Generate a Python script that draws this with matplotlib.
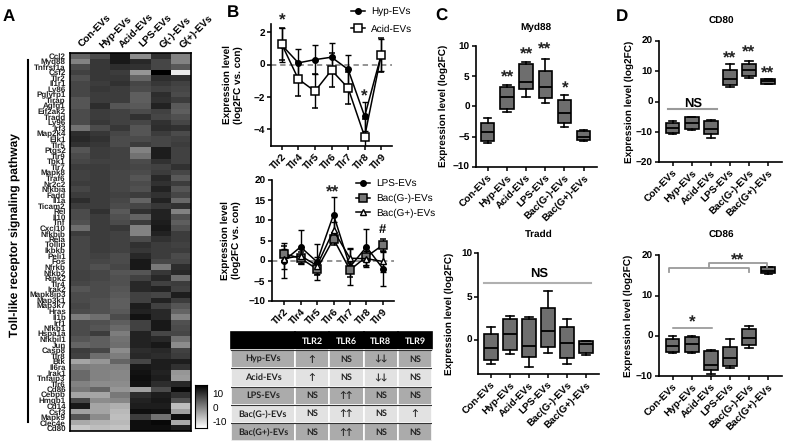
import matplotlib
matplotlib.use('Agg')
import matplotlib.pyplot as plt
from matplotlib.transforms import ScaledTranslation

plt.rcParams['font.family'] = ['Liberation Sans', 'DejaVu Sans']
plt.rcParams['text.hinting'] = 'no_hinting'
plt.rcParams['text.hinting_factor'] = 1
W, H = 800, 441

genes = ['Ccl2', 'Myd88', 'Tnfrsf1a', 'Csf2', 'Tlr2', 'Il1r1', 'Ly86', 'Pglyrp1', 'Tirap', 'Agfg1',
         'Eif2ak2', 'Tradd', 'Ly96', 'Irf3', 'Map2k4', 'Elk1', 'Tlr5', 'Ptgs2', 'Tlr9', 'Tbk1',
         'Tlr7', 'Mapk8', 'Traf6', 'Nr2c2', 'Nfkbia', 'Fadd', 'Il1a', 'Ticam2', 'Rel', 'Il10',
         'Tnf', 'Cxcl10', 'Nfkbib', 'Rela', 'Tollip', 'Ikbkb', 'Peli1', 'Fos', 'Nfrkb', 'Nfkb2',
         'Ripk2', 'Tlr4', 'Irak2', 'Mapk8ip3', 'Map3k1', 'Map3k7', 'Hras', 'Il1b', 'Irf1', 'Nfkb1',
         'Hspa1a', 'Nfkbil1', 'Jun', 'Casp8', 'Tlr8', 'Btk', 'Il6ra', 'Irak1', 'Tnfaip3', 'Tlr6',
         'Cd86', 'Cebpb', 'Hmgb1', 'Cd14', 'Csf3', 'Mapk9', 'Clec4e', 'Cd80']
heat_cols = ['Con-EVs', 'Hyp-EVs', 'Acid-EVs', 'LPS-EVs', 'G(-)-EVs', 'G(+)-EVs']
heat = [
    [4.8, 7.9, 14.0, 0.0, 10.9, 1.2],
    [1.2, 10.3, 14.0, 12.1, 8.5, 1.2],
    [7.9, 10.3, 11.5, 10.9, 8.5, 6.1],
    [9.1, 10.3, 9.7, -1.2, 17.0, -11.6],
    [7.3, 10.3, 10.3, 4.8, 11.5, 10.9],
    [8.5, 9.7, 10.9, 8.5, 10.3, 9.1],
    [8.5, 10.3, 9.7, 7.9, 9.1, 8.5],
    [8.5, 9.7, 9.7, 5.5, 11.5, 7.9],
    [6.7, 9.7, 9.7, 5.5, 10.9, 9.7],
    [6.7, 11.5, 6.7, 6.1, 12.7, 6.1],
    [7.9, 9.7, 9.1, 7.9, 9.1, 5.5],
    [7.9, 9.7, 9.1, 10.9, 8.5, 7.3],
    [7.9, 10.3, 9.1, 8.5, 10.9, 8.5],
    [3.0, 7.9, 10.3, 6.7, 11.5, 10.9],
    [11.5, 10.3, 8.5, 6.7, 9.7, 7.9],
    [12.1, 10.9, 7.9, 7.9, 8.5, 9.1],
    [10.9, 10.3, 7.9, 9.7, 8.5, 9.7],
    [6.7, 9.7, 9.1, 1.2, 13.4, 9.1],
    [7.9, 9.7, 9.1, 3.0, 13.4, 9.1],
    [8.5, 9.1, 9.1, 7.9, 10.9, 9.1],
    [9.7, 9.7, 9.1, 8.5, 9.1, 10.9],
    [9.1, 9.7, 8.5, 7.9, 9.7, 8.5],
    [9.1, 9.7, 8.5, 6.7, 12.1, 6.1],
    [9.7, 9.7, 8.5, 7.9, 10.9, 9.7],
    [8.5, 9.7, 8.5, 7.3, 12.7, 6.7],
    [9.7, 9.7, 9.1, 9.7, 10.9, 8.5],
    [11.5, 9.7, 8.5, 4.8, 12.7, 4.2],
    [9.7, 9.7, 7.9, 8.5, 10.3, 10.9],
    [7.9, 10.9, 6.1, 10.9, 12.7, 1.2],
    [7.9, 9.7, 7.3, 4.8, 12.7, 7.3],
    [7.3, 9.7, 7.9, 9.7, 13.4, 5.5],
    [3.6, 9.7, 10.3, 1.2, 14.0, 7.3],
    [9.7, 9.7, 9.1, 1.2, 12.7, 9.7],
    [8.5, 9.7, 9.1, 7.9, 10.9, 9.7],
    [8.5, 9.7, 9.1, 10.9, 9.7, 9.1],
    [8.5, 9.7, 9.1, 10.3, 9.7, 9.7],
    [8.5, 9.1, 7.9, 12.1, 9.7, 7.9],
    [8.5, 8.5, 7.9, 14.0, 8.5, 8.5],
    [8.5, 7.3, 8.5, 14.0, 2.4, 11.5],
    [9.1, 8.5, 6.7, 6.7, 10.3, 12.1],
    [9.1, 8.5, 7.3, 9.1, 12.1, 3.6],
    [8.5, 7.9, 7.3, 12.1, 9.1, 9.7],
    [6.7, 7.9, 6.7, 12.1, 12.7, 9.1],
    [7.9, 7.9, 6.1, 9.1, 8.5, 13.4],
    [7.9, 7.3, 5.5, 9.1, 12.7, 9.7],
    [8.5, 7.3, 5.5, 13.4, 9.1, 6.7],
    [7.9, 7.3, 6.1, 12.7, 12.1, 4.8],
    [1.8, 3.6, 7.9, 14.6, 12.1, 1.2],
    [7.9, 7.3, 5.5, 9.1, 14.0, 7.3],
    [7.9, 6.7, 4.2, 9.1, 14.0, 7.9],
    [7.9, 9.7, 1.8, 12.7, 8.5, 8.5],
    [6.7, 5.5, 3.0, 12.7, 12.1, 3.0],
    [4.8, 5.5, 3.6, 12.7, 14.0, 0.0],
    [9.7, 8.5, 0.0, 11.5, 12.1, 9.1],
    [9.1, 3.6, 1.8, 12.1, 11.5, 9.7],
    [-3.1, -1.2, 4.8, 8.5, 13.4, 13.4],
    [1.8, 1.2, 1.2, 14.0, 13.4, 10.9],
    [4.2, 1.2, 0.6, 14.6, 12.7, -1.2],
    [4.2, 1.2, 0.6, 15.2, 13.4, -1.8],
    [1.2, 0.0, 0.0, 14.6, 11.5, 12.1],
    [2.4, 4.8, -1.2, -2.5, 7.9, 15.8],
    [-3.1, -3.1, 2.4, 11.5, 13.4, 10.9],
    [8.5, 0.0, 0.6, 12.7, 14.0, 7.3],
    [14.0, -3.1, -4.3, 13.4, 13.4, -6.1],
    [-2.5, -3.1, -5.5, 15.2, 14.6, -2.5],
    [6.7, 0.0, -6.1, 9.7, 3.0, 15.2],
    [-3.7, -4.9, -5.5, 15.2, 15.8, -3.7],
    [-7.3, -6.1, -6.7, 15.2, 15.2, 13.4],
]
cbar_levels = [-14 + i * 0.25 for i in range(125)]

tlr = ['Tlr2', 'Tlr4', 'Tlr5', 'Tlr6', 'Tlr7', 'Tlr8', 'Tlr9']
hyp = [1.2, 0.1, 0.3, 0.45, -0.3, -3.2, 0.6]
hyp_err = [1.05, 0.85, 0.9, 0.9, 0.9, 0.9, 1.0]
acid = [1.25, -0.9, -1.65, -0.35, -1.45, -4.45, 0.6]
acid_err = [1.0, 1.05, 1.05, 1.05, 1.0, 1.1, 1.05]
lps = [0.0, 3.4, -0.3, 11.4, -1.5, 3.4, -2.0]
lps_err = [4.4, 4.2, 4.5, 4.3, 4.5, 4.5, 4.2]
bac_neg = [1.7, 0.6, -2.1, 5.4, -2.3, 1.0, 3.9]
bac_neg_err = [2.0, 1.5, 1.5, 1.5, 1.7, 2.2, 1.5]
bac_pos = [0.5, 1.2, -1.2, 7.5, 0.6, 0.5, -0.2]
bac_pos_err = [2.5, 1.8, 2.0, 2.0, 2.5, 2.0, 2.5]

groups = ['Con-EVs', 'Hyp-EVs', 'Acid-EVs', 'LPS-EVs', 'Bac(G-)-EVs', 'Bac(G+)-EVs']
# low whisker, q1, median, q3, high whisker
myd88 = [[-6.1, -5.8, -4.3, -2.8, -1.9], [-0.9, -0.5, 1.5, 3.2, 3.5], [1.6, 2.8, 4.1, 7.1, 7.4],
         [0.6, 1.4, 3.2, 5.9, 7.9], [-3.5, -2.8, -1.1, 1.0, 1.8], [-5.8, -5.5, -5.0, -4.1, -4.0]]
tradd = [[-2.8, -2.4, -0.9, 0.7, 1.5], [-1.7, -1.2, 0.7, 2.4, 2.7], [-3.1, -2.0, -0.7, 2.4, 2.6],
         [-1.5, -0.8, 1.0, 3.7, 5.6], [-2.8, -2.1, -0.4, 1.5, 2.4], [-1.8, -1.5, -0.5, -0.2, -0.2]]
cd80 = [[-10.8, -10.4, -8.8, -7.2, -6.3], [-9.5, -9.0, -7.0, -5.2, -5.0], [-12.0, -10.8, -9.0, -6.3, -6.0],
        [4.8, 5.5, 7.5, 10.3, 12.2], [7.8, 8.5, 10.3, 12.3, 13.2], [5.6, 5.8, 6.8, 7.4, 7.5]]
cd86 = [[-4.3, -4.0, -2.5, -0.8, 0.0], [-4.4, -4.1, -2.0, -0.3, -0.1], [-9.6, -8.4, -7.2, -3.9, -3.5],
        [-8.1, -7.5, -5.5, -2.7, -0.8], [-3.0, -2.3, -0.6, 1.6, 2.4], [15.4, 15.5, 16.0, 17.0, 17.1]]

table_cols = ['', 'TLR2', 'TLR6', 'TLR8', 'TLR9']
table_rows = [['Hyp-EVs', '↑', 'NS', '↓↓', 'NS'],
              ['Acid-EVs', '↑', 'NS', '↓↓', 'NS'],
              ['LPS-EVs', 'NS', '↑↑', 'NS', 'NS'],
              ['Bac(G-)-EVs', 'NS', '↑↑', 'NS', '↑'],
              ['Bac(G+)-EVs', 'NS', '↑↑', 'NS', 'NS']]

fig = plt.figure(figsize=(W / 100, H / 100), dpi=100)


def make_ax(left, top, right, bottom):
    return fig.add_axes([left / W, 1 - bottom / H, (right - left) / W, (bottom - top) / H])


def px_text(x, y, s, **kw):
    kw.setdefault('ha', 'center')
    kw.setdefault('va', 'center')
    fig.text(x / W, 1 - y / H, s, **kw)


def px_line(xs, ys, color='#9a9a9a', lw=1.3):
    fig.add_artist(plt.Line2D([x / W for x in xs], [1 - y / H for y in ys], color=color, lw=lw))


def ylabel_at(ax, x, text, size=7.4):
    # label centre given as a pixel column
    pos = ax.get_position()
    ax.set_ylabel(text, fontsize=size, fontweight='bold', linespacing=1.2)
    ax.yaxis.set_label_coords((x / W - pos.x0) / pos.width, 0.5)


def style_ax(ax, ticks, labels):
    ax.spines['top'].set_visible(False)
    ax.spines['right'].set_visible(False)
    ax.spines['left'].set_linewidth(1.2)
    ax.spines['bottom'].set_linewidth(1.2)
    ax.set_yticks(ticks)
    ax.set_xticks(range(len(labels)))
    ax.set_xticklabels(labels, rotation=45, ha='right', rotation_mode='anchor', fontsize=6.9, fontweight='bold')
    ax.tick_params(axis='both', length=3, width=1.1, pad=1.5)
    ax.tick_params(axis='y', labelsize=7.5)
    for lab in ax.get_yticklabels():
        lab.set_fontweight('bold')


def box_panel(ax, rows, ticks):
    stats = [dict(whislo=r[0], q1=r[1], med=r[2], q3=r[3], whishi=r[4], fliers=[]) for r in rows]
    ax.bxp(stats, positions=range(len(rows)), widths=0.7, patch_artist=True, showfliers=False,
           boxprops=dict(facecolor='#6e6e6e', edgecolor='black', linewidth=1.2),
           medianprops=dict(color='black', linewidth=1.3),
           whiskerprops=dict(color='black', linewidth=1.2),
           capprops=dict(color='black', linewidth=1.2), capwidths=0.38)
    style_ax(ax, ticks, groups)


def err_line(ax, vals, errs, **kw):
    cont = ax.errorbar(range(len(vals)), vals, yerr=errs, color='black', lw=1.1, capsize=2.5,
                       capthick=1, elinewidth=1, **kw)
    return cont.lines[0]


# A: heat map
ax_a = make_ax(70, 53, 190.5, 431)
ax_a.imshow(heat, cmap='gray_r', vmin=-14, vmax=17, aspect='auto')
ax_a.set_yticks(range(len(genes)))
ax_a.set_yticklabels(genes, fontsize=5.7, fontweight='bold', color='#222222')
ax_a.set_xticks(range(len(heat_cols)))
ax_a.set_xticklabels(heat_cols, rotation=45, ha='left', rotation_mode='anchor', fontsize=7.1, fontweight='bold')
ax_a.tick_params(axis='y', length=0, pad=3)
ax_a.tick_params(axis='x', length=0, pad=3, top=True, labeltop=True, bottom=False, labelbottom=False)
shift = ScaledTranslation(4 / 100, -1 / 100, fig.dpi_scale_trans)
for lab in ax_a.get_xticklabels():
    lab.set_transform(lab.get_transform() + shift)
for sp in ax_a.spines.values():
    sp.set_linewidth(1.2)

ax_cb = make_ax(195, 385, 207, 428)
ax_cb.imshow([[v] for v in reversed(cbar_levels)], cmap='gray_r', vmin=-14, vmax=17, aspect='auto',
             extent=[0, 1, -14, 17])
ax_cb.set_xticks([])
ax_cb.yaxis.tick_right()
ax_cb.set_yticks([10, 0, -10])
ax_cb.set_yticklabels(['10', '0', '-10'], fontsize=7.5)
ax_cb.tick_params(axis='y', length=0, pad=4)

px_line([28, 28], [60, 422], color='black', lw=1.5)
px_text(15, 235, 'Toll-like receptor signaling pathway', rotation=90, fontsize=8.4, fontweight='bold')

# B top
ax_b1 = make_ax(271, 24, 392, 145.5)
ax_b1.axhline(0, color='#777777', lw=1.1, ls=(0, (3.5, 2.5)), zorder=0)
l1 = err_line(ax_b1, hyp, hyp_err, marker='o', ms=4)
l2 = err_line(ax_b1, acid, acid_err, marker='s', ms=5.5, mfc='white', mew=1.1)
ax_b1.set_xlim(-0.65, 6.65)
ax_b1.set_ylim(-5, 2.5)
style_ax(ax_b1, [2, 0, -2, -4], tlr)
ylabel_at(ax_b1, 243, 'Expression level\n(log2FC vs. con)', 7.2)
ax_b1.legend([l1, l2], ['Hyp-EVs', 'Acid-EVs'], loc='upper left', bbox_to_anchor=(351 / W, 1 - 7 / H),
             bbox_transform=fig.transFigure, frameon=False, fontsize=7.5, handlelength=1.3,
             labelspacing=0.75, handletextpad=0.65, borderpad=0, borderaxespad=0)

# B bottom
ax_b2 = make_ax(271.7, 180, 394, 301)
ax_b2.axhline(0, color='#777777', lw=1.1, ls=(0, (3.5, 2.5)), zorder=0)
l3 = err_line(ax_b2, lps, lps_err, marker='o', ms=4)
l4 = err_line(ax_b2, bac_neg, bac_neg_err, marker='s', ms=5.5, mfc='#777777', mew=1.1)
l5 = err_line(ax_b2, bac_pos, bac_pos_err, marker='^', ms=5, mfc='white', mew=1.0)
ax_b2.set_xlim(-0.75, 6.67)
ax_b2.set_ylim(-10, 20)
style_ax(ax_b2, [20, 15, 10, 5, 0, -5, -10], tlr)
ylabel_at(ax_b2, 241, 'Expression level\n(log2FC vs. con)', 7.2)
ax_b2.legend([l3, l4, l5], ['LPS-EVs', 'Bac(G-)-EVs', 'Bac(G+)-EVs'], loc='upper left',
             bbox_to_anchor=(356 / W, 1 - 179.5 / H), bbox_transform=fig.transFigure, frameon=False,
             fontsize=7.5, handlelength=1.3, labelspacing=0.5, handletextpad=0.65, borderpad=0,
             borderaxespad=0)

# B table
ax_t = make_ax(231, 332, 432, 441)
ax_t.axis('off')
tb = ax_t.table(cellText=[table_cols] + table_rows, bbox=[0, 0, 1, 1], cellLoc='center',
                colWidths=[64, 34.5, 34.5, 34.5, 34])
tb.auto_set_font_size(False)
for (r, c), cell in tb.get_celld().items():
    cell.set_edgecolor('white' if r else 'black')
    cell.set_linewidth(1.2)
    txt = cell.get_text()
    txt.set_family(['Lato', 'DejaVu Sans'])
    txt.set_fontweight('bold')
    txt.set_fontsize(6.4)
    if r == 0:
        cell.set_facecolor('black')
        txt.set_color('white')
    else:
        cell.set_facecolor('#ababab' if r % 2 else '#e2e2e2')
        txt.set_color('#222222')
for i in range(6):
    ax_t.axhline(i / 6, color='#333333', lw=0.8, zorder=10)

# C
ax_c1 = make_ax(476, 46, 596.7, 166.7)
box_panel(ax_c1, myd88, [10, 5, 0, -5, -10])
ax_c1.set_xlim(-0.61, 5.68)
ax_c1.set_ylim(-10, 10)
ylabel_at(ax_c1, 448, 'Expression level (log2FC)')

ax_c2 = make_ax(478.3, 253.3, 599.3, 374.3)
box_panel(ax_c2, tradd, [10, 5, 0])
ax_c2.set_xlim(-0.67, 5.7)
ax_c2.set_ylim(-4, 10)
ylabel_at(ax_c2, 454, 'Expression level (log2FC)')
ax_c2.plot([-0.37, 5.25], [6.6, 6.6], color='#b0b0b0', lw=1.5)

# D
ax_d1 = make_ax(659, 40.7, 781.7, 162.3)
box_panel(ax_d1, cd80, [20, 10, 0, -10, -20])
ax_d1.set_xlim(-0.72, 5.71)
ax_d1.set_ylim(-20, 20)
ylabel_at(ax_d1, 634, 'Expression level (log2FC)')
ax_d1.plot([-0.25, 2.33], [-2.6, -2.6], color='#9a9a9a', lw=1.5)

ax_d2 = make_ax(659, 255.3, 781.7, 376)
box_panel(ax_d2, cd86, [20, 10, 0, -10])
ax_d2.set_xlim(-0.72, 5.71)
ax_d2.set_ylim(-10, 20)
ylabel_at(ax_d2, 633, 'Expression level (log2FC)')
ax_d2.plot([0, 2.05], [2, 2], color='#8a8a8a', lw=1.1)
px_line([669, 669, 749, 749], [272, 268, 268, 272])
px_line([708.7, 708.7, 767, 767], [268, 263, 263, 266.5])

# panel letters, titles and significance marks
for x, y, s in [(9, 16.5, 'A'), (233, 13, 'B'), (441, 16.5, 'C'), (622, 16.5, 'D')]:
    px_text(x, y, s, fontsize=12, fontweight='bold')
for x, y, s in [(535.7, 27.7, 'Myd88'), (539, 234, 'Tradd'), (721, 21, 'CD80'), (721, 235.7, 'CD86')]:
    px_text(x, y, s, fontsize=7.2, fontweight='bold')
stars = [(282, 21, '*'), (364.5, 97, '*'), (333, 193, '**'), (508, 78, '**'), (526.5, 55, '**'),
         (545, 50, '**'), (565.5, 89, '*'), (730, 59, '**'), (748.5, 53, '**'), (768, 74, '**'),
         (737.7, 261, '**'), (692, 323, '*')]
for x, y, s in stars:
    px_text(x, y, s, fontsize=12.5, color='#222222', fontweight='bold')
px_text(382.5, 230, '#', fontsize=9, fontweight='bold')
px_text(539.5, 274, 'NS', fontsize=9, fontweight='bold')
px_text(693, 103.5, 'NS', fontsize=9, fontweight='bold')

fig.savefig('out.png', dpi=100)
